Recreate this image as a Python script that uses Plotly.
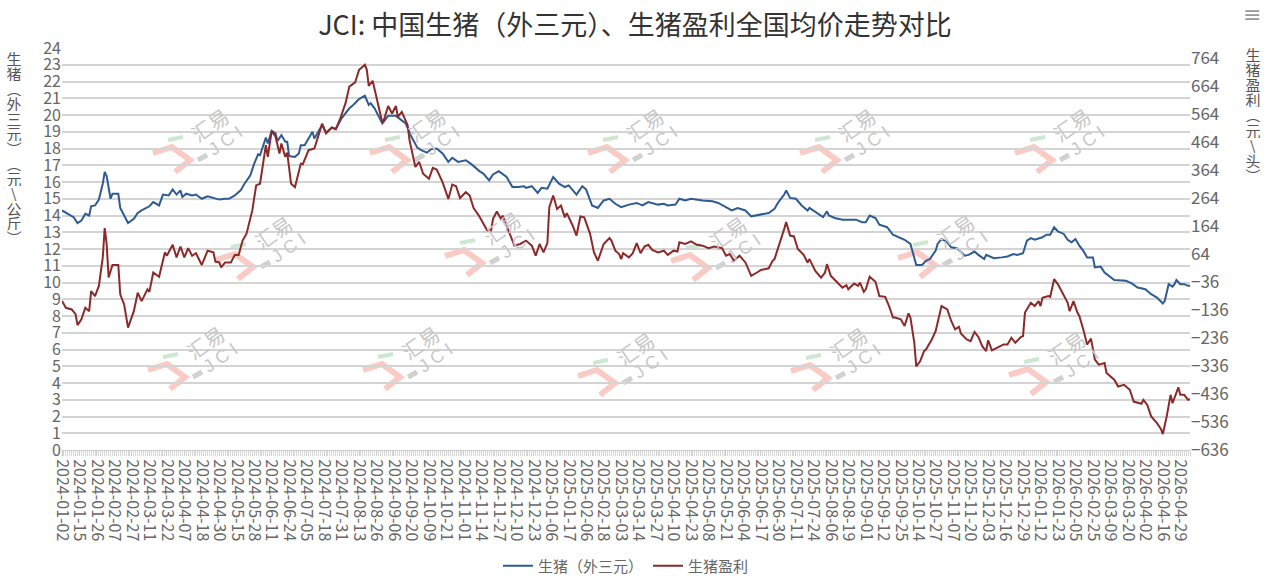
import plotly.graph_objects as go

# trading-day index of each point (0 = 2024-01-02)
hog_idx = [0, 3, 6, 8, 10, 12, 14, 15, 17, 19, 21, 22, 23, 25, 26, 29, 30, 32, 34, 37,
           39, 41, 43, 45, 47, 50, 52, 55, 57, 59, 61, 62, 64, 67, 69, 72, 75, 78, 81, 84,
           86, 89, 92, 94, 97, 99, 101, 102, 105, 106, 108, 110, 111, 113, 115, 116, 117, 120, 122, 123,
           125, 129, 130, 134, 136, 139, 141, 144, 148, 150, 153, 156, 158, 159, 161, 165, 168, 172, 174, 177,
           180, 183, 185, 188, 190, 193, 196, 199, 201, 204, 208, 211, 215, 217, 220, 222, 225, 227, 229, 232,
           235, 238, 239, 242, 245, 247, 250, 253, 256, 259, 261, 265, 268, 270, 273, 276, 279, 282, 285, 288,
           292, 296, 299, 302, 307, 310, 312, 316, 318, 321, 324, 330, 335, 338, 342, 345, 348, 352, 355, 359,
           362, 364, 367, 369, 372, 373, 375, 378, 381, 384, 385, 388, 390, 392, 394, 395, 398, 402, 405, 409,
           412, 414, 416, 419, 421, 425, 428, 431, 434, 437, 439, 440, 443, 445, 447, 450, 451, 453, 456, 458,
           461, 463, 465, 467, 470, 472, 475, 476, 480, 484, 487, 490, 492, 495, 497, 499, 501, 505, 507, 509,
           511, 513, 516, 518, 520, 522, 524, 526, 528, 531, 532, 535, 537, 542, 548, 551, 554, 558, 561, 564,
           567, 568, 570, 572, 573, 574, 576, 578, 580, 581]
hog_price = [14.3, 14.1, 13.9, 13.55, 13.7, 14.1, 14.0, 14.55, 14.6, 14.95, 15.9, 16.6, 16.35, 15.0, 15.3, 15.3, 14.45, 14.0, 13.55, 13.8,
             14.15, 14.3, 14.45, 14.55, 14.8, 14.6, 15.25, 15.2, 15.55, 15.25, 15.5, 15.1, 15.3, 15.2, 15.25, 15.0, 15.15, 15.05, 14.95, 15.0,
             15.0, 15.2, 15.5, 15.9, 16.4, 17.1, 17.65, 17.6, 18.65, 18.3, 19.05, 18.9, 18.45, 18.8, 18.4, 18.4, 17.55, 17.5, 17.7, 18.2,
             18.2, 19.0, 18.6, 19.4, 18.95, 19.25, 19.15, 19.8, 20.4, 20.6, 20.95, 21.15, 20.6, 20.7, 20.4, 19.5, 19.95, 19.95, 19.75, 19.5,
             18.7, 18.05, 17.9, 17.75, 17.95, 18.0, 17.7, 17.2, 17.45, 17.2, 17.3, 17.05, 16.65, 16.5, 16.1, 16.45, 16.65, 16.5, 16.3, 15.7,
             15.7, 15.75, 15.65, 15.75, 15.35, 15.65, 15.6, 16.3, 15.9, 15.7, 15.8, 15.25, 15.75, 15.55, 14.6, 14.45, 14.9, 15.0, 14.7, 14.5,
             14.65, 14.75, 14.6, 14.8, 14.65, 14.7, 14.6, 14.65, 15.0, 14.9, 15.0, 14.9, 14.85, 14.75, 14.5, 14.3, 14.45, 14.3, 13.95, 14.05,
             14.1, 14.15, 14.4, 14.8, 15.25, 15.5, 15.05, 15.0, 14.6, 14.3, 14.45, 14.2, 14.05, 13.9, 14.25, 14.0, 13.85, 13.75, 13.75, 13.75,
             13.6, 13.6, 14.0, 13.85, 13.45, 13.3, 12.85, 12.7, 12.55, 12.3, 11.5, 11.05, 11.05, 11.3, 11.4, 11.9, 12.3, 12.6, 12.4, 12.1,
             12.05, 11.85, 11.6, 11.65, 11.85, 11.65, 11.4, 11.65, 11.45, 11.5, 11.55, 11.7, 11.65, 11.75, 12.5, 12.65, 12.55, 12.7, 12.85, 12.85,
             13.3, 13.05, 12.9, 12.55, 12.4, 12.6, 12.2, 11.9, 11.5, 11.5, 10.9, 10.95, 10.6, 10.15, 10.1, 9.95, 9.7, 9.6, 9.3, 9.1,
             8.75, 8.9, 9.9, 9.75, 9.9, 10.15, 9.9, 9.9, 9.8, 9.8]

profit_idx = [0, 2, 5, 7, 8, 10, 12, 14, 15, 17, 19, 21, 22, 23, 24, 26, 29, 30, 32, 34,
              37, 39, 41, 44, 45, 47, 50, 53, 54, 57, 59, 61, 63, 65, 67, 69, 72, 75, 78, 79,
              81, 82, 84, 87, 89, 91, 93, 95, 98, 100, 102, 105, 106, 108, 110, 112, 113, 115, 116, 118,
              120, 123, 124, 127, 130, 134, 136, 139, 141, 143, 146, 148, 151, 153, 154, 156, 157, 158, 160, 162,
              165, 166, 168, 170, 172, 173, 175, 178, 179, 182, 184, 186, 189, 191, 193, 196, 199, 201, 203, 205,
              208, 210, 212, 215, 219, 221, 222, 224, 226, 227, 230, 232, 233, 236, 239, 241, 242, 244, 246, 248,
              250, 251, 253, 255, 257, 259, 260, 263, 265, 267, 269, 272, 274, 276, 279, 282, 283, 285, 287, 288,
              289, 292, 294, 296, 298, 300, 302, 304, 307, 310, 312, 315, 317, 318, 321, 324, 327, 330, 333, 336,
              340, 342, 344, 346, 349, 352, 355, 358, 360, 364, 366, 367, 370, 372, 373, 375, 377, 379, 382, 384,
              385, 388, 391, 393, 394, 396, 399, 402, 404, 405, 408, 410, 411, 413, 414, 416, 419, 421, 424, 426,
              428, 429, 432, 433, 434, 436, 437, 439, 440, 442, 444, 445, 448, 450, 452, 453, 456, 458, 460, 462,
              463, 466, 468, 470, 472, 474, 476, 477, 479, 482, 485, 487, 489, 491, 494, 495, 496, 499, 501, 503,
              504, 505, 508, 509, 511, 513, 515, 518, 519, 521, 523, 524, 526, 528, 530, 532, 534, 537, 538, 542,
              544, 547, 550, 552, 556, 557, 559, 561, 564, 566, 567, 569, 571, 572, 575, 576, 578, 580, 581]
profit = [-104, -128, -134, -151, -190, -169, -128, -140, -68, -86, -50, 52, 157, 100, -20, 25, 25, -80, -116, -199,
          -140, -74, -104, -62, -71, -2, -17, 70, 58, 97, 52, 91, 52, 85, 58, 67, 25, 76, 70, 37,
          34, 16, 34, 34, 61, 61, 112, 136, 219, 309, 315, 453, 411, 504, 483, 423, 459, 411, 426, 315,
          303, 387, 384, 435, 441, 530, 495, 516, 510, 542, 602, 662, 677, 722, 728, 740, 722, 665, 683, 626,
          533, 548, 593, 566, 593, 554, 572, 525, 471, 375, 393, 351, 333, 372, 366, 321, 261, 312, 306, 264,
          285, 273, 228, 198, 148, 148, 190, 216, 190, 201, 148, 112, 94, 100, 112, 100, 94, 58, 100, 70,
          103, 231, 273, 225, 237, 195, 210, 166, 130, 198, 195, 136, 70, 40, 100, 121, 112, 76, 64, 46,
          67, 52, 67, 103, 67, 91, 97, 79, 70, 76, 61, 76, 73, 106, 100, 109, 97, 94, 85, 91,
          85, 58, 64, 40, 58, 34, -14, -2, 7, 13, 40, 46, 106, 154, 178, 130, 127, 82, 61, 34,
          46, 4, -20, -2, 28, -14, -35, -56, -47, -62, -41, -50, -38, -71, -62, -17, -35, -86, -89, -122,
          -163, -163, -169, -181, -193, -148, -163, -253, -337, -319, -283, -277, -241, -211, -157, -122, -134, -175, -205, -196,
          -220, -241, -247, -214, -232, -265, -283, -244, -280, -268, -259, -259, -235, -253, -232, -229, -145, -110, -122, -104,
          -122, -92, -86, -89, -26, -44, -71, -110, -140, -104, -145, -157, -205, -259, -238, -313, -331, -325, -361, -385,
          -409, -403, -421, -463, -471, -457, -475, -516, -540, -561, -579, -516, -439, -469, -412, -439, -439, -457, -454]

# category labels under the axis, one every 9 trading days
date_labels = ["2024-01-02", "2024-01-15", "2024-01-26", "2024-02-07", "2024-02-27", "2024-03-11", "2024-03-22",
               "2024-04-07", "2024-04-18", "2024-04-30", "2024-05-15", "2024-05-28", "2024-06-11", "2024-06-24",
               "2024-07-05", "2024-07-18", "2024-07-31", "2024-08-13", "2024-08-26", "2024-09-06", "2024-09-20",
               "2024-10-09", "2024-10-21", "2024-11-01", "2024-11-14", "2024-11-27", "2024-12-10", "2024-12-23",
               "2025-01-06", "2025-01-17", "2025-02-06", "2025-02-18", "2025-03-03", "2025-03-14", "2025-03-27",
               "2025-04-10", "2025-04-23", "2025-05-08", "2025-05-21", "2025-06-04", "2025-06-17", "2025-06-30",
               "2025-07-11", "2025-07-24", "2025-08-06", "2025-08-19", "2025-09-01", "2025-09-12", "2025-09-25",
               "2025-10-14", "2025-10-27", "2025-11-07", "2025-11-20", "2025-12-03", "2025-12-16", "2025-12-29",
               "2026-01-12", "2026-01-23", "2026-02-05", "2026-02-25", "2026-03-09", "2026-03-20", "2026-04-02",
               "2026-04-16", "2026-04-29"]
label_step = 9

left_ticks = list(range(0, 25))
right_ticks = [-636, -536, -436, -336, -236, -136, -36, 64, 164, 264, 364, 464, 564, 664, 764]

BLUE = "#2F5B93"
RED = "#8B2A2A"
FONT = "Noto Sans CJK SC"
TXT = "#666666"

W, H = 1270, 584
ML, MR, MT, MB = 62, 80, 48, 134
PW, PH = W - ML - MR, H - MT - MB


def px(x, y):
    # pixel on the page -> paper coords
    return (x - ML) / PW, (H - MB - y) / PH


def note(text, x, y, size, color, family=FONT, angle=0, w=None, h=None):
    ax, ay = px(x, y)
    d = dict(text=text, x=ax, y=ay, xref="paper", yref="paper", showarrow=False,
             xanchor="center", yanchor="middle", textangle=angle,
             font=dict(family=family, size=size, color=color))
    if w:
        d["width"] = w
    if h:
        d["height"] = h
    return d


fig = go.Figure()
fig.add_trace(go.Scatter(x=hog_idx, y=hog_price, name="生猪（外三元）", mode="lines",
                         line=dict(color=BLUE, width=2)))
fig.add_trace(go.Scatter(x=profit_idx, y=profit, name="生猪盈利", mode="lines", yaxis="y2",
                         line=dict(color=RED, width=2)))

annotations = []
shapes = []

# watermark logos
marks = [(210, 125), (427, 125), (645, 125), (857, 125), (1072, 125),
         (273, 232), (502, 228), (728, 233), (955, 230),
         (205, 342), (420, 342), (635, 348), (848, 343), (1066, 347)]
for ax, ay in marks:
    annotations.append(note("汇易", ax, ay, 20, "#c8c8c8", angle=-35))
    annotations.append(note("J C I", ax + 15, ay + 16, 18, "#c8c8c8", family="Arial", angle=-35))
    pts = [px(ax + dx, ay + dy) for dx, dy in [(-57, 28), (-38, 22), (-20, 35), (-35, 47)]]
    path = "M {} {} L {} {} L {} {} L {} {}".format(*[c for p in pts for c in p])
    shapes.append(dict(type="path", path=path, xref="paper", yref="paper",
                       line=dict(color="rgba(246,160,150,0.55)", width=6), layer="below"))
    g0, g1 = px(ax - 42, ay + 15), px(ax - 27, ay + 12)
    shapes.append(dict(type="line", x0=g0[0], y0=g0[1], x1=g1[0], y1=g1[1], xref="paper", yref="paper",
                       line=dict(color="rgba(170,215,180,0.6)", width=4), layer="below"))
    d0, d1 = px(ax - 12, ay + 35), px(ax - 3, ay + 30)
    shapes.append(dict(type="line", x0=d0[0], y0=d0[1], x1=d1[0], y1=d1[1], xref="paper", yref="paper",
                       line=dict(color="rgba(190,190,190,0.7)", width=5), layer="below"))

# stacked (vertical) axis titles
left_title = ["生", "猪", "︵", "外", "三", "元", "︶", "︵", "元", "\\", "公", "斤", "︶"]
for k, ch in enumerate(left_title):
    annotations.append(note(ch, 14, 58 + 15 * k, 15, "#555555", w=16, h=15))
right_title = ["生", "猪", "盈", "利", "︵", "元", "\\", "头", "︶"]
for k, ch in enumerate(right_title):
    annotations.append(note(ch, 1253, 55 + 15 * k, 15, "#555555", w=16, h=15))

# toolbox icon
annotations.append(note("≡", 1252, 14, 22, "#999999", family="DejaVu Sans"))

fig.update_layout(
    width=W, height=H,
    margin=dict(l=ML, r=MR, t=MT, b=MB, autoexpand=False),
    paper_bgcolor="white", plot_bgcolor="white",
    font=dict(family=FONT, color=TXT),
    title=dict(text="JCI: 中国生猪（外三元）、生猪盈利全国均价走势对比", x=0.5, xref="container",
               y=1 - 26 / H, yref="container", xanchor="center", yanchor="middle",
               font=dict(family=FONT, size=27, color="#333333")),
    xaxis=dict(range=[0, max(hog_idx[-1], profit_idx[-1])], tickmode="array",
               tickvals=[k * label_step for k in range(len(date_labels))], ticktext=date_labels,
               tickangle=90, tickfont=dict(size=16, color=TXT), showgrid=False, zeroline=False,
               showline=True, linecolor="#cccccc", ticks="outside", ticklen=5, tickcolor="#cccccc",
               automargin=False,
               minor=dict(tickmode="linear", tick0=0, dtick=1, ticks="outside", ticklen=5,
                          tickcolor="#d6d6d6", showgrid=False)),
    yaxis=dict(range=[0, 24], tickmode="array", tickvals=left_ticks, showgrid=True,
               gridcolor="#d4d4d4", gridwidth=1.5, zeroline=False, ticks="", automargin=False,
               tickfont=dict(size=16, color=TXT)),
    yaxis2=dict(range=[-636, 800], overlaying="y", side="right", tickmode="array",
                tickvals=right_ticks, showgrid=False, zeroline=False, ticks="", automargin=False,
                tickfont=dict(size=17, color=TXT)),
    legend=dict(orientation="h", x=0.5, xanchor="center", y=(H - MB - 566) / PH, yanchor="middle",
                font=dict(size=15, color=TXT)),
    annotations=annotations,
    shapes=shapes,
)

# drop the browser's default page margin so the figure sits at the window's corner
fig.write_html("out.html", config={"displayModeBar": False},
               post_script="document.body.style.margin='0';"
                           "document.documentElement.style.overflow='hidden';")
